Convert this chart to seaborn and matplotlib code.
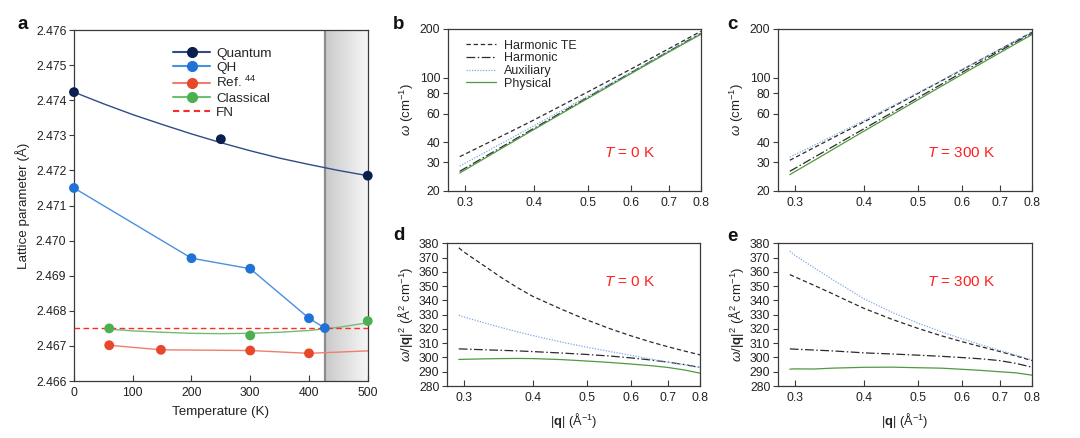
"""Lattice parameter vs temperature and acoustic dispersion panels (a-e)."""

import matplotlib
matplotlib.use("Agg")
import matplotlib.pyplot as plt
from matplotlib.lines import Line2D
from matplotlib.ticker import FixedLocator, NullLocator, FormatStrFormatter
import numpy as np
import seaborn as sns

sns.set_theme(style="ticks")
FONT = "Liberation Sans"
plt.rcParams["font.family"] = [FONT, "DejaVu Sans"]
plt.rcParams["mathtext.fontset"] = "custom"
plt.rcParams["mathtext.rm"] = FONT
plt.rcParams["mathtext.it"] = FONT + ":italic"
plt.rcParams["mathtext.bf"] = FONT + ":bold"

# ---- panel a data ----
quantum_T = [0, 250, 500]
quantum_a = [2.47423, 2.47289, 2.47185]
quantum_fit_T = [0, 50, 100, 150, 200, 250, 300, 350, 400, 450, 500]
quantum_fit_a = [2.47423, 2.47390, 2.47359, 2.47331, 2.47304, 2.47279,
                 2.47256, 2.47235, 2.47217, 2.47200, 2.47185]
qh_T = [0, 200, 300, 400, 427]
qh_a = [2.4715, 2.4695, 2.4692, 2.46779, 2.46751]
ref_T = [60, 148, 300, 400]
ref_a = [2.46702, 2.46689, 2.46687, 2.46679]
ref_line_T = [60, 148, 300, 400, 500]
ref_line_a = [2.46702, 2.46689, 2.46687, 2.46679, 2.46686]
classical_T = [60, 300, 500]
classical_a = [2.46750, 2.46730, 2.46771]
classical_fit_T = [60, 100, 150, 200, 250, 300, 350, 400, 450, 500]
classical_fit_a = [2.46748, 2.46743, 2.46739, 2.46736, 2.46735, 2.46736,
                   2.46739, 2.46744, 2.46753, 2.46766]
fn_T = [0, 500]
fn_a = [2.4675, 2.4675]
melt_T = 427

# ---- panels b-e data: omega/|q|^2 read from d and e ----
q = [0.294, 0.30, 0.325, 0.35, 0.375, 0.40, 0.45, 0.50, 0.55, 0.60, 0.65, 0.70, 0.75, 0.80]
te_0 = [376.8, 374.0, 364.8, 356.2, 348.9, 342.7, 333.8, 326.3, 320.2, 315.2, 311.0, 307.5, 304.5, 301.8]
harm_0 = [306, 305.9, 305.4, 305, 304.6, 304.1, 303.1, 302.1, 301, 299.7, 298.3, 296.7, 295, 293]
aux_0 = [329.6, 328.4, 324.5, 321.0, 318.0, 315.3, 310.8, 307.2, 304.2, 301.5, 299.0, 296.8, 294.8, 293.0]
phys_0 = [298.6, 298.7, 299, 299.2, 299.3, 299.2, 298.5, 297.5, 296.5, 295.4, 294.3, 293, 291.2, 289]
te_300 = [358.0, 356.5, 350.5, 344.8, 339.3, 334.3, 326.5, 320.3, 315.2, 311.0, 307.4, 304.2, 301.0, 297.8]
harm_300 = [306, 305.8, 305.2, 304.6, 303.9, 303.2, 302.4, 301.6, 300.8, 299.9, 299, 297.8, 295.8, 293.2]
aux_300 = [374.5, 371.6, 362.8, 354.8, 347.6, 341.0, 331.4, 324.0, 318.0, 313.0, 308.7, 305.0, 301.6, 298.4]
phys_300 = [291.8, 292, 291.9, 292.5, 292.8, 293.1, 293.2, 292.8, 292.5, 291.7, 290.9, 290, 289.2, 287.6]

series_names = ["Harmonic TE", "Harmonic", "Auxiliary", "Physical"]
series_style = {
    "Harmonic TE": dict(color="#2b2b2b", linestyle=(0, (3.5, 2.2)), lw=0.9),
    "Harmonic": dict(color="#2b2b2b", linestyle=(0, (7, 2, 1.2, 2)), lw=0.9),
    "Auxiliary": dict(color="#7fa9e6", linestyle=(0, (1, 1.2)), lw=0.9),
    "Physical": dict(color="#4f9a3e", linestyle="-", lw=0.9),
}

C_QUANT, C_QUANT_L = "#0b1f4f", "#2f4c85"
C_QH, C_QH_L = "#1f72d6", "#4a8fe0"
C_REF, C_REF_L = "#e9472b", "#ef7f6c"
C_CL, C_CL_L = "#4caf50", "#6dc070"
C_FN = "#ff2a2a"
SPINE = "#3a3a3a"
TXT = "#222222"
TICK_FS = 8.8
LABEL_FS = 9.6

fig = plt.figure(figsize=(10.8, 4.38), dpi=100)
ax_a = fig.add_axes([0.0685, 0.130, 0.272, 0.8015])
ax_b = fig.add_axes([0.4148, 0.564, 0.234, 0.370])
ax_c = fig.add_axes([0.7204, 0.564, 0.235, 0.370])
ax_d = fig.add_axes([0.4139, 0.1187, 0.2343, 0.326])
ax_e = fig.add_axes([0.7204, 0.1187, 0.235, 0.326])


def style_axes(ax):
    for s in ax.spines.values():
        s.set_visible(True)
        s.set_color(SPINE)
        s.set_linewidth(0.9)
    ax.tick_params(axis="y", direction="out", length=3.5, width=0.8, color=SPINE,
                   labelsize=TICK_FS, labelcolor=TXT, pad=2)
    ax.tick_params(axis="x", direction="in", length=4, width=0.8, color=SPINE,
                   labelsize=TICK_FS, labelcolor=TXT, pad=4)


# ---- panel a ----
grad = np.linspace(0.79, 0.965, 60)
img = np.dstack([grad, grad, grad])
ax_a.imshow(img, extent=[melt_T, 500, 2.466, 2.476], aspect="auto", zorder=0)
ax_a.axvline(melt_T, color="#8c8c8c", lw=1.6, zorder=1)

sns.lineplot(x=quantum_fit_T, y=quantum_fit_a, ax=ax_a, color=C_QUANT_L, lw=1.0, zorder=2)
sns.lineplot(x=qh_T, y=qh_a, ax=ax_a, color=C_QH_L, lw=1.0, zorder=2)
sns.lineplot(x=ref_line_T, y=ref_line_a, ax=ax_a, color=C_REF_L, lw=1.0, zorder=2)
sns.lineplot(x=classical_fit_T, y=classical_fit_a, ax=ax_a, color=C_CL_L, lw=1.0, zorder=2)
sns.lineplot(x=fn_T, y=fn_a, ax=ax_a, color=C_FN, lw=1.0, linestyle=(0, (4, 2.5)), zorder=3)
for xs, ys, c in [(quantum_T, quantum_a, C_QUANT), (qh_T, qh_a, C_QH),
                  (ref_T, ref_a, C_REF), (classical_T, classical_a, C_CL)]:
    sns.scatterplot(x=xs, y=ys, ax=ax_a, color=c, s=50, edgecolor="none",
                    zorder=4, clip_on=False)

ax_a.set_xlim(0, 500)
ax_a.set_ylim(2.466, 2.476)
ax_a.xaxis.set_major_locator(FixedLocator([0, 100, 200, 300, 400, 500]))
ax_a.yaxis.set_major_locator(FixedLocator(np.round(np.arange(2.466, 2.4765, 0.001), 3)))
ax_a.yaxis.set_major_formatter(FormatStrFormatter("%.3f"))
ax_a.set_xlabel("Temperature (K)", fontsize=LABEL_FS, color=TXT, labelpad=5)
ax_a.set_ylabel("Lattice parameter (Å)", fontsize=LABEL_FS, color=TXT, labelpad=4)
style_axes(ax_a)

handles_a = [
    Line2D([], [], color=C_QUANT_L, lw=1.5, marker="o", ms=7, mfc=C_QUANT, mec=C_QUANT),
    Line2D([], [], color=C_QH_L, lw=1.5, marker="o", ms=7, mfc=C_QH, mec=C_QH),
    Line2D([], [], color=C_REF_L, lw=1.5, marker="o", ms=7, mfc=C_REF, mec=C_REF),
    Line2D([], [], color=C_CL_L, lw=1.5, marker="o", ms=7, mfc=C_CL, mec=C_CL),
    Line2D([], [], color=C_FN, lw=1.5, linestyle=(0, (3, 2))),
]
labels_a = ["Quantum", "QH", "Ref. $^{44}$", "Classical", "FN"]
ax_a.legend(handles_a, labels_a, loc="upper left", bbox_to_anchor=(0.337, 0.951),
            frameon=False, fontsize=9.7, handlelength=2.75, handletextpad=0.45,
            labelspacing=0.12, borderpad=0, borderaxespad=0)


# ---- panels b, c (omega, log-log) ----
def omega_from_ratio(vals):
    # omega = (omega/|q|^2) * |q|^2, same curves as panels d/e
    return [v * qq ** 2 for v, qq in zip(vals, q)]


def dispersion_panel(ax, curves, temp_label, legend=False):
    for name, vals in zip(series_names, curves):
        sns.lineplot(x=q, y=omega_from_ratio(vals), ax=ax, label=name if legend else None,
                     **series_style[name])
    ax.set_xscale("log")
    ax.set_yscale("log")
    ax.set_xlim(0.28, 0.8)
    ax.set_ylim(20, 200)
    ax.yaxis.set_major_locator(FixedLocator([20, 30, 40, 60, 80, 100, 200]))
    ax.yaxis.set_major_formatter(FormatStrFormatter("%d"))
    ax.yaxis.set_minor_locator(NullLocator())
    ax.xaxis.set_major_locator(FixedLocator([0.3, 0.4, 0.5, 0.6, 0.7, 0.8]))
    ax.xaxis.set_major_formatter(FormatStrFormatter("%.1f"))
    ax.xaxis.set_minor_locator(NullLocator())
    ax.set_xlabel("")
    ax.set_ylabel(r"$\omega$ (cm$^{-1}$)", fontsize=9.5, color=TXT, labelpad=3)
    ax.text(0.72, 0.235, temp_label, transform=ax.transAxes, color="#ff2020",
            fontsize=11, ha="center", va="center")
    style_axes(ax)
    if legend:
        ax.legend(loc="upper left", bbox_to_anchor=(0.071, 0.933), frameon=False,
                  fontsize=9.0, handlelength=2.4, handletextpad=0.65,
                  labelspacing=0.05, borderpad=0, borderaxespad=0)
    elif ax.get_legend() is not None:
        ax.get_legend().remove()


dispersion_panel(ax_b, [te_0, harm_0, aux_0, phys_0], r"$T$ = 0 K", legend=True)
dispersion_panel(ax_c, [te_300, harm_300, aux_300, phys_300], r"$T$ = 300 K")


# ---- panels d, e (omega / |q|^2) ----
def ratio_panel(ax, curves, temp_label):
    for name, vals in zip(series_names, curves):
        sns.lineplot(x=q, y=vals, ax=ax, **series_style[name])
    ax.set_xscale("log")
    ax.set_xlim(0.28, 0.8)
    ax.set_ylim(280, 380)
    ax.yaxis.set_major_locator(FixedLocator(list(range(280, 381, 10))))
    ax.yaxis.set_major_formatter(FormatStrFormatter("%d"))
    ax.xaxis.set_major_locator(FixedLocator([0.3, 0.4, 0.5, 0.6, 0.7, 0.8]))
    ax.xaxis.set_major_formatter(FormatStrFormatter("%.1f"))
    ax.xaxis.set_minor_locator(NullLocator())
    ax.set_xlabel(r"|$\mathbf{q}$| (Å$^{-1}$)", fontsize=9.3, color=TXT, labelpad=5)
    ax.set_ylabel(r"$\omega$/|$\mathbf{q}$|$^2$ (Å$^2$ cm$^{-1}$)", fontsize=9.5,
                  color=TXT, labelpad=3)
    ax.text(0.72, 0.727, temp_label, transform=ax.transAxes, color="#ff2020",
            fontsize=11, ha="center", va="center")
    style_axes(ax)


ratio_panel(ax_d, [te_0, harm_0, aux_0, phys_0], r"$T$ = 0 K")
ratio_panel(ax_e, [te_300, harm_300, aux_300, phys_300], r"$T$ = 300 K")

# panel letters
for lbl, x, y in [("a", 0.016, 0.943), ("b", 0.364, 0.943), ("c", 0.673, 0.943),
                  ("d", 0.364, 0.463), ("e", 0.673, 0.459)]:
    fig.text(x, y, lbl, fontsize=13.5, fontweight="bold", color="#111111", va="center")

fig.savefig("out.png", dpi=100)
plt.close(fig)
